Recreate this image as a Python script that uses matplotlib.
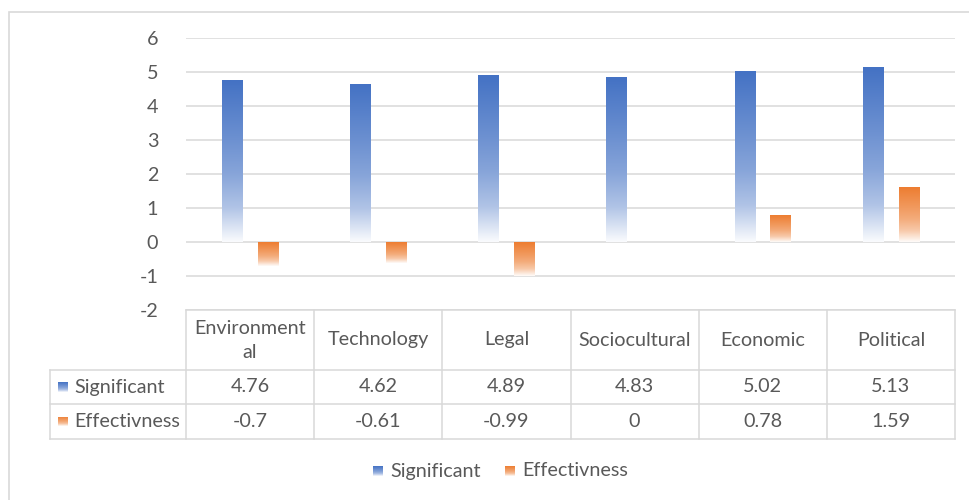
import numpy as np
import matplotlib
matplotlib.use("Agg")
import matplotlib.pyplot as plt
from matplotlib.colors import to_rgb
from matplotlib.patches import Rectangle

plt.rcParams['font.family'] = ['Lato', 'DejaVu Sans']
plt.rcParams['axes.unicode_minus'] = False

categories = ["Environmental", "Technology", "Legal", "Sociocultural", "Economic", "Political"]
header_labels = ["Environment\nal", "Technology", "Legal", "Sociocultural", "Economic", "Political"]
significant = [4.76, 4.62, 4.89, 4.83, 5.02, 5.13]
effectivness = [-0.7, -0.61, -0.99, 0, 0.78, 1.59]
series_names = ["Significant", "Effectivness"]

BLUE = "#4472C4"
ORANGE = "#ED7D31"
GREY_TXT = "#595959"
GRID = "#D9D9D9"
FS = 14.2

W, H = 970, 500
fig = plt.figure(figsize=(W / 100, H / 100), dpi=100)


def fx(px):
    return px / W


def fy(py):
    return 1 - py / H


def gradient(color, n=120):
    # top = full colour, bottom fades to white
    t = np.linspace(0, 1, n)
    w = np.interp(t, [0, 0.37, 0.58, 0.79, 1.0], [0, 0.22, 0.36, 0.58, 0.97])
    c = np.array(to_rgb(color))
    img = c[None, :] * (1 - w[:, None]) + w[:, None]
    return img[:, None, :]


# chart border
fig.patches.append(Rectangle((fx(9), fy(520)), fx(1000) - fx(9), fy(12) - fy(520),
                             transform=fig.transFigure, fill=False,
                             edgecolor=GRID, linewidth=1.2))

x0, x1, ytop, ybot = 186, 955, 38, 310
ax = fig.add_axes([fx(x0), fy(ybot), fx(x1) - fx(x0), fy(ytop) - fy(ybot)])
ax.set_xlim(0, len(categories))
ax.set_ylim(-2, 6)
ax.set_yticks(range(-2, 7))
ax.yaxis.grid(True, color=GRID, linewidth=1.1)
ax.set_axisbelow(True)
for s in ax.spines.values():
    s.set_visible(False)
ax.set_xticks([])
ax.tick_params(axis='y', length=0, pad=20, labelsize=FS, labelcolor=GREY_TXT)

bw = 0.16
offset = 0.14
for i in range(len(categories)):
    c = i + 0.5
    for val, col, off in [(significant[i], BLUE, -offset), (effectivness[i], ORANGE, offset)]:
        if val == 0:
            continue
        lo, hi = min(0, val), max(0, val)
        ax.imshow(gradient(col), extent=[c + off - bw / 2, c + off + bw / 2, lo, hi],
                  aspect='auto', interpolation='bilinear', zorder=2)
ax.set_xlim(0, len(categories))
ax.set_ylim(-2, 6)

# data table below the plot
col_w = (x1 - x0) / len(categories)
row_y = [310, 370, 404, 439]
line_kw = dict(color=GRID, linewidth=1.1, transform=fig.transFigure)
fig.add_artist(plt.Line2D([fx(x0), fx(x1)], [fy(row_y[0])] * 2, **line_kw))
for ry in row_y[1:]:
    fig.add_artist(plt.Line2D([fx(50), fx(x1)], [fy(ry)] * 2, **line_kw))
fig.add_artist(plt.Line2D([fx(50), fx(50)], [fy(row_y[1]), fy(row_y[3])], **line_kw))
for k in range(len(categories) + 1):
    xx = x0 + k * col_w
    fig.add_artist(plt.Line2D([fx(xx), fx(xx)], [fy(row_y[0]), fy(row_y[3])], **line_kw))

txt_kw = dict(color=GREY_TXT, fontsize=FS, ha='center', va='center')
for k, lab in enumerate(header_labels):
    cx = x0 + (k + 0.5) * col_w
    fig.text(fx(cx), fy((row_y[0] + row_y[1]) / 2), lab, linespacing=1.5, **txt_kw)
    fig.text(fx(cx), fy((row_y[1] + row_y[2]) / 2), f"{significant[k]:g}", **txt_kw)
    fig.text(fx(cx), fy((row_y[2] + row_y[3]) / 2), f"{effectivness[k]:g}", **txt_kw)


def key(px, py, color, size=10):
    kax = fig.add_axes([fx(px), fy(py + size / 2), fx(size), size / H])
    kax.imshow(gradient(color), extent=[0, 1, 0, 1], aspect='auto', interpolation='bilinear')
    kax.set_axis_off()


for r, (name, col) in enumerate(zip(series_names, [BLUE, ORANGE])):
    cy = (row_y[r + 1] + row_y[r + 2]) / 2
    key(58, cy, col)
    fig.text(fx(74), fy(cy), name, color=GREY_TXT, fontsize=FS, ha='left', va='center')

# legend at the bottom
leg_y = 471
key(373, leg_y, BLUE)
fig.text(fx(390), fy(leg_y), series_names[0], color=GREY_TXT, fontsize=FS, ha='left', va='center')
key(505, leg_y, ORANGE)
fig.text(fx(522), fy(leg_y), series_names[1], color=GREY_TXT, fontsize=FS, ha='left', va='center')

fig.savefig("out.png", dpi=100, facecolor="white")
